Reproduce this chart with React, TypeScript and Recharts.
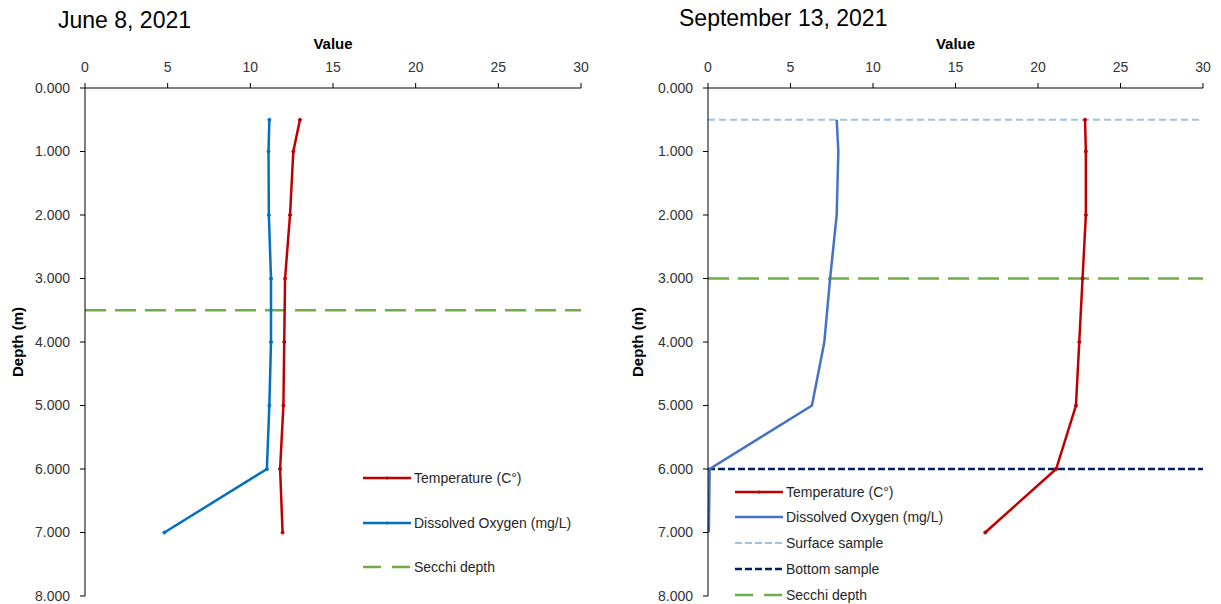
// Two lake depth profiles (temperature + dissolved oxygen vs depth), side by side.

import { LineChart, Line, XAxis, YAxis, ReferenceLine } from "recharts";

const DEPTHS = [0.5, 1, 2, 3, 4, 5, 6, 7];
const JUNE_TEMP = [13.0, 12.6, 12.4, 12.1, 12.05, 12.0, 11.8, 11.95];
const JUNE_DO = [11.15, 11.1, 11.12, 11.25, 11.25, 11.15, 11.0, 4.8];
const SEPT_TEMP = [22.85, 22.9, 22.9, 22.7, 22.5, 22.3, 21.1, 16.8];
const SEPT_DO = [7.8, 7.9, 7.8, 7.4, 7.05, 6.3, 0.1, 0.05];

const JUNE_SECCHI = 3.5;
const SEPT_SECCHI = 3;
const SEPT_SURFACE = 0.5;
const SEPT_BOTTOM = 6;

const VALUE_TICKS = [0, 5, 10, 15, 20, 25, 30];
const DEPTH_TICKS = [0, 1, 2, 3, 4, 5, 6, 7, 8];

const FONT = "'Liberation Sans', Arial, sans-serif";
const TEMP_COLOR = "#c00000";
const SECCHI = { stroke: "#70ad47", dash: "21 9", width: 2.5 };
const SURFACE = { stroke: "#9dc3e6", dash: "7 4", width: 2 };
const BOTTOM = { stroke: "#002060", dash: "7 3", width: 2.5 };

const tick = { fontSize: 14, fill: "#333", fontFamily: FONT };
const labelStyle = { fontSize: 15, fontWeight: 700, fill: "#000", fontFamily: FONT, textAnchor: "middle" } as const;

function rowsFor(temp: number[], dox: number[]) {
  return DEPTHS.map((d, i) => ({ depth: d, temp: temp[i], dox: dox[i] }));
}

interface Ref { y: number; stroke: string; dash: string; width: number }

function ProfileChart({ rows, doColor, doDots, refs, width, yWidth, right }: {
  rows: Array<Record<string, number>>; doColor: string; doDots: boolean; refs: Ref[];
  width: number; yWidth: number; right: number;
}) {
  // vertical layout: depth runs down the y axis, values along the top x axis
  return (
    <LineChart layout="vertical" width={width} height={604} data={rows}
      margin={{ top: 0, right, bottom: 8, left: 0 }}>
      <XAxis type="number" orientation="top" domain={[0, 30]} ticks={VALUE_TICKS} height={88}
        tick={tick} tickSize={5} tickMargin={11} stroke="#000" axisLine={{ stroke: "#000" }}
        label={{ value: "Value", position: "center", style: labelStyle }} />
      <YAxis type="number" dataKey="depth" domain={[0, 8]} ticks={DEPTH_TICKS} width={yWidth}
        tick={tick} tickSize={5} tickMargin={10} stroke="#000" tickFormatter={(v: number) => v.toFixed(3)}
        label={{ value: "Depth (m)", angle: -90, position: "insideLeft", offset: 18, style: labelStyle }} />
      {refs.map((r) => (
        <ReferenceLine key={r.y + r.stroke} y={r.y} stroke={r.stroke} strokeDasharray={r.dash} strokeWidth={r.width} />
      ))}
      <Line dataKey="temp" stroke={TEMP_COLOR} strokeWidth={2.5} isAnimationActive={false}
        dot={{ r: 1.5, fill: TEMP_COLOR, stroke: TEMP_COLOR, strokeWidth: 1 }} />
      <Line dataKey="dox" stroke={doColor} strokeWidth={2.5} isAnimationActive={false}
        dot={doDots ? { r: 1.5, fill: doColor, stroke: doColor, strokeWidth: 1 } : false} />
    </LineChart>
  );
}

function LegendRow({ top, left, label, color, dash, width = 2.5, marker }: {
  top: number; left: number; label: string; color: string; dash?: string; width?: number; marker?: boolean;
}) {
  return (
    <div style={{ position: "absolute", top: top - 10, left, height: 20, display: "flex", alignItems: "center", whiteSpace: "nowrap" }}>
      <svg width={48} height={10} style={{ display: "block" }}>
        <line x1={0} x2={48} y1={5} y2={5} stroke={color} strokeWidth={width} strokeDasharray={dash} />
        {marker && <circle cx={24} cy={5} r={1.5} fill={color} />}
      </svg>
      <span style={{ marginLeft: 3, fontSize: 14, fontFamily: FONT, color: "#262626" }}>{label}</span>
    </div>
  );
}

export default function App() {
  const june = rowsFor(JUNE_TEMP, JUNE_DO);
  const sept = rowsFor(SEPT_TEMP, SEPT_DO);
  const titleStyle = { position: "absolute", fontSize: 23, lineHeight: "23px", fontFamily: FONT, color: "#000", whiteSpace: "nowrap" } as const;
  return (
    <div style={{ position: "absolute", left: 0, top: 0, width: 1221, height: 604, background: "#fff", overflow: "hidden" }}>
      <div style={{ ...titleStyle, left: 58, top: 9 }}>June 8, 2021</div>
      <div style={{ ...titleStyle, left: 679, top: 7 }}>September 13, 2021</div>

      <div style={{ position: "absolute", left: 0, top: 0 }}>
        <ProfileChart rows={june} doColor="#0070c0" doDots width={610} yWidth={85} right={29}
          refs={[{ y: JUNE_SECCHI, ...SECCHI }]} />
      </div>
      <div style={{ position: "absolute", left: 620, top: 0 }}>
        <ProfileChart rows={sept} doColor="#4472c4" doDots={false} width={601} yWidth={88} right={18}
          refs={[{ y: SEPT_SURFACE, ...SURFACE }, { y: SEPT_BOTTOM, ...BOTTOM }, { y: SEPT_SECCHI, ...SECCHI }]} />
      </div>

      <LegendRow top={478} left={363} label="Temperature (C°)" color={TEMP_COLOR} marker />
      <LegendRow top={523} left={363} label="Dissolved Oxygen (mg/L)" color="#0070c0" marker />
      <LegendRow top={567} left={363} label="Secchi depth" color={SECCHI.stroke} dash="18 11" />

      <LegendRow top={492} left={735} label="Temperature (C°)" color={TEMP_COLOR} marker />
      <LegendRow top={517} left={735} label="Dissolved Oxygen (mg/L)" color="#4472c4" />
      <LegendRow top={543} left={735} label="Surface sample" color={SURFACE.stroke} dash="7 3" width={2} />
      <LegendRow top={569} left={735} label="Bottom sample" color={BOTTOM.stroke} dash="7 3" />
      <LegendRow top={595} left={735} label="Secchi depth" color={SECCHI.stroke} dash="18 11" />
    </div>
  );
}
